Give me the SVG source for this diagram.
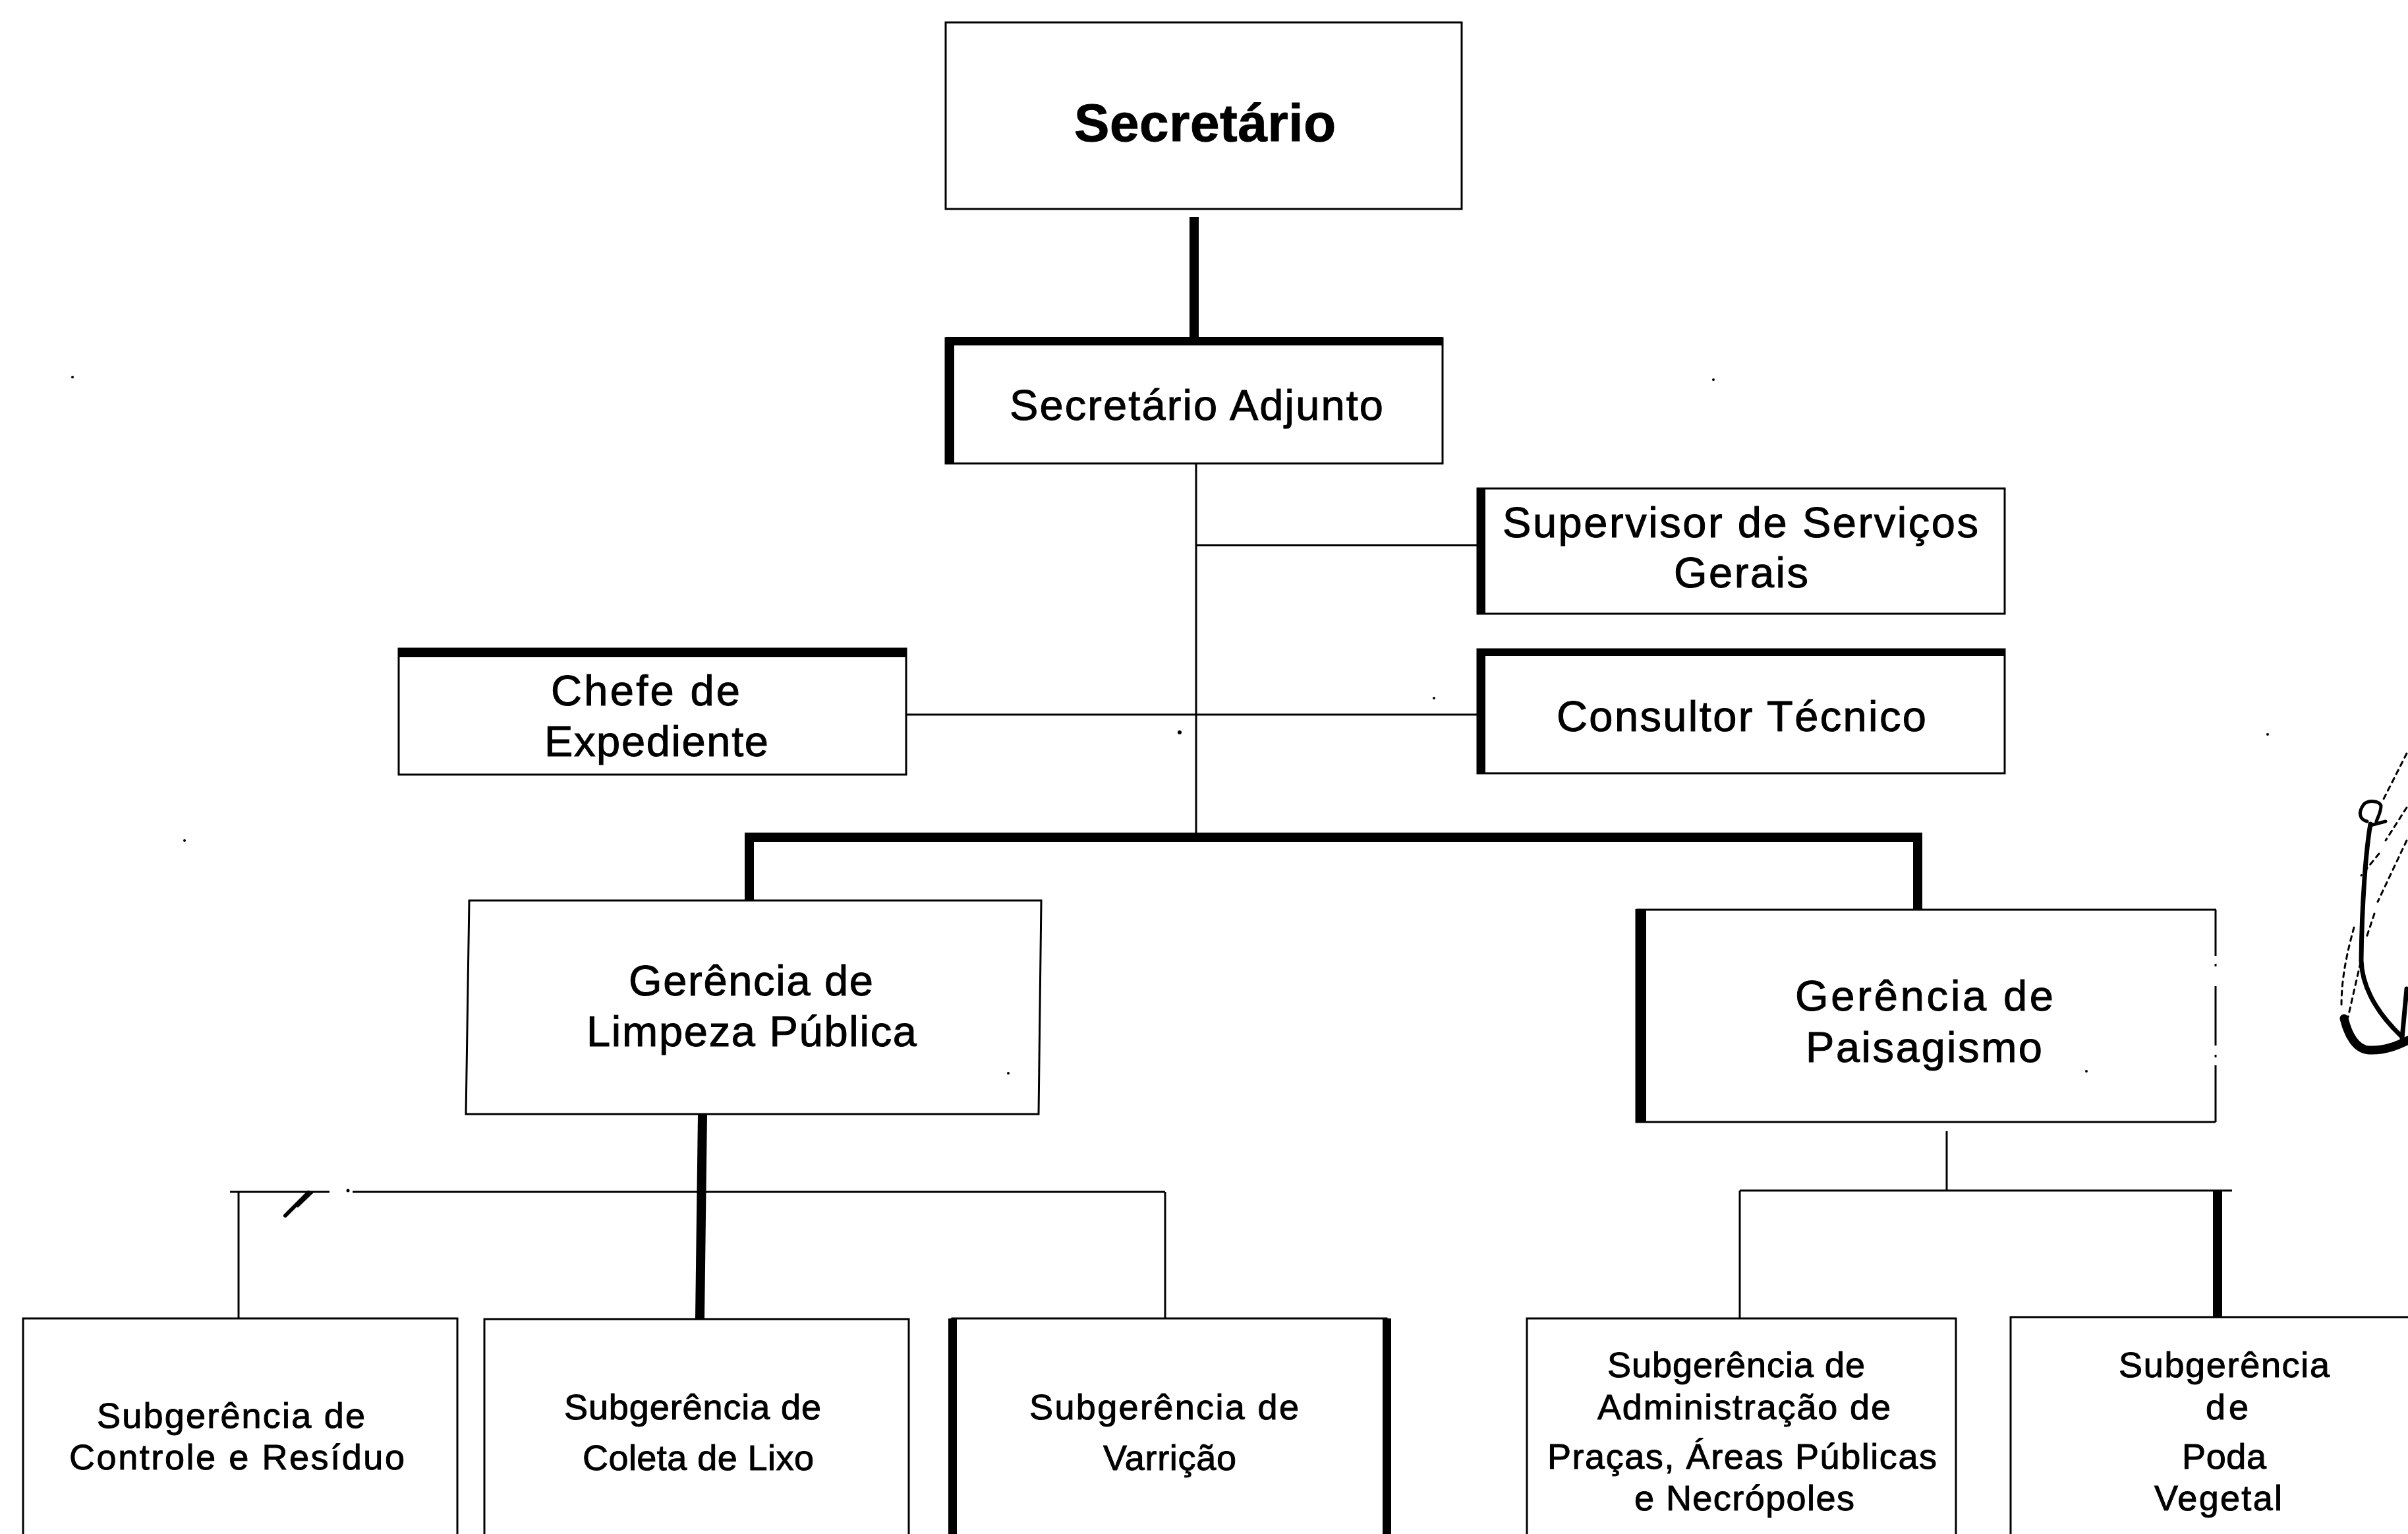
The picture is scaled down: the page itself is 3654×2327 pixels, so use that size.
<svg xmlns="http://www.w3.org/2000/svg" width="3654" height="2327" viewBox="0 0 3654 2327">
<style>
.box{fill:#fff;stroke:#000;stroke-width:3}
.edge{fill:#000}
.thin{stroke:#000;stroke-width:3;fill:none}
.thick{stroke:#000;stroke-width:14;fill:none}
text{font-family:"Liberation Sans",Arial,sans-serif;fill:#000;stroke:#000;stroke-width:1}
.n{font-size:65px}
.s{font-size:54px}
.b{font-size:80px;font-weight:bold}
.sig{stroke:#000;fill:none;stroke-linecap:round;stroke-linejoin:round}
.dot{stroke-width:3;stroke-dasharray:7 7}
</style>
<rect width="3654" height="2327" fill="#fff"/>
<g id="connectors">
<path class="thick" d="M1812 329V512"/>
<path class="thin" d="M1815 703V1266"/>
<path class="thin" d="M1815 827H2242"/>
<path class="thin" d="M1375 1084H2242"/>
<path class="thick" d="M1137 1368V1270H2910V1379"/>
<path class="thick" d="M1066 1691L1062 2000"/>
<path class="thin" d="M349 1808H500M535 1808H1768"/>
<path class="thin" d="M362 1808V2000"/>
<path class="thin" d="M1768 1808V2000"/>
<path class="thin" d="M2954 1716V1806"/>
<path class="thin" d="M2640 1806H3387"/>
<path class="thin" d="M2640 1806V2000"/>
<path class="thick" d="M3365 1806V1998"/>
</g>
<g id="secretario"><rect class="box" x="1435" y="34" width="783" height="283"/>
<text class="b" x="1630" y="214" textLength="397">Secretário</text></g>
<g id="secretario-adjunto"><rect class="box" x="1435" y="513" width="754" height="190"/>
<rect class="edge" x="1435" y="511" width="754" height="13"/><rect class="edge" x="1435" y="511" width="13" height="192"/>
<text class="n" x="1532" y="637" textLength="567">Secretário Adjunto</text></g>
<g id="supervisor"><rect class="box" x="2242" y="741" width="800" height="190"/>
<rect class="edge" x="2242" y="741" width="12" height="190"/>
<text class="n" x="2280" y="815" textLength="722">Supervisor de Serviços</text>
<text class="n" x="2540" y="891" textLength="204">Gerais</text></g>
<g id="consultor"><rect class="box" x="2242" y="985" width="800" height="188"/>
<rect class="edge" x="2242" y="984" width="800" height="11"/><rect class="edge" x="2242" y="984" width="12" height="189"/>
<text class="n" x="2362" y="1109" textLength="561">Consultor Técnico</text></g>
<g id="chefe"><rect class="box" x="605" y="984" width="770" height="191"/>
<rect class="edge" x="605" y="983" width="770" height="14"/>
<text class="n" x="836" y="1070" textLength="287">Chefe de</text>
<text class="n" x="826" y="1147" textLength="340">Expediente</text></g>
<g id="gerencia-limpeza"><path class="box" d="M712 1366H1580L1576 1690H707Z"/>
<text class="n" x="954" y="1510" textLength="371">Gerência de</text>
<text class="n" x="890" y="1587" textLength="501">Limpeza Pública</text></g>
<g id="gerencia-paisagismo"><path d="M2483 1379V1702H3362H2483" class="box"/>
<path class="thin" d="M2483 1380H3363"/>
<path class="thin" d="M3362 1380V1702" stroke-dasharray="70 12 4 30 90 14 4 12 100 60"/>
<rect class="edge" x="2483" y="1379" width="15" height="323"/>
<text class="n" x="2724" y="1533" textLength="392">Gerência de</text>
<text class="n" x="2740" y="1611" textLength="359">Paisagismo</text></g>
<g id="sub-controle"><rect class="box" x="35" y="2000" width="659" height="340"/>
<text class="s" x="147" y="2166" textLength="407">Subgerência de</text>
<text class="s" x="105" y="2229" textLength="509">Controle e Resíduo</text></g>
<g id="sub-coleta"><rect class="box" x="735" y="2001" width="644" height="340"/>
<text class="s" x="856" y="2153" textLength="390">Subgerência de</text>
<text class="s" x="884" y="2230" textLength="351">Coleta de Lixo</text></g>
<g id="sub-varricao"><rect class="box" x="1445" y="2000" width="659" height="340"/>
<rect class="edge" x="1439" y="2000" width="13" height="327"/><rect class="edge" x="2098" y="2000" width="13" height="327"/>
<text class="s" x="1562" y="2153" textLength="409">Subgerência de</text>
<text class="s" x="1674" y="2230" textLength="202">Varrição</text></g>
<g id="sub-pracas"><rect class="box" x="2317" y="2000" width="651" height="340"/>
<text class="s" x="2439" y="2089" textLength="391">Subgerência de</text>
<text class="s" x="2424" y="2153" textLength="445">Administração de</text>
<text class="s" x="2348" y="2228" textLength="591">Praças, Áreas Públicas</text>
<text class="s" x="2480" y="2291" textLength="334">e Necrópoles</text></g>
<g id="sub-poda"><rect class="box" x="3051" y="1998" width="620" height="345"/>
<text class="s" x="3215" y="2089" textLength="320">Subgerência</text>
<text class="s" x="3347" y="2153" textLength="65">de</text>
<text class="s" x="3311" y="2228" textLength="128">Poda</text>
<text class="s" x="3269" y="2291" textLength="194">Vegetal</text></g>
<path class="sig" stroke-width="6" d="M468 1809L433 1844"/>
<path class="sig" stroke-width="3" d="M474 1809L452 1830"/>
<g id="rubrica">
<path class="sig" stroke-width="7" d="M3597 1250C3590 1290 3584 1370 3583 1457C3584 1490 3600 1530 3643 1571"/>
<path class="sig" stroke-width="13" d="M3557 1545C3563 1570 3575 1592 3595 1593C3620 1594 3640 1585 3654 1578"/>
<path class="sig" stroke-width="5" d="M3592 1246C3580 1243 3578 1232 3587 1220C3595 1213 3610 1215 3613 1222C3613 1232 3608 1240 3606 1246"/>
<path class="sig" stroke-width="5" d="M3597 1252L3620 1246"/>
<path class="sig" stroke-width="7" d="M3652 1500L3645 1575"/>
<path class="sig dot" d="M3652 1143L3617 1212"/>
<path class="sig dot" d="M3652 1225L3620 1275"/>
<path class="sig dot" d="M3652 1275L3608 1368"/>
<path class="sig dot" d="M3603 1386L3590 1425"/>
<path class="sig dot" d="M3572 1407C3563 1440 3553 1480 3553 1525"/>
<path class="sig dot" d="M3582 1460L3563 1543"/>
<path class="sig dot" d="M3610 1295L3583 1328"/>
</g>
<g id="specks" fill="#000">
<circle cx="1790" cy="1111" r="3"/><circle cx="2600" cy="576" r="2"/><circle cx="2176" cy="1059" r="2"/><circle cx="1530" cy="1628" r="2"/><circle cx="3166" cy="1625" r="2"/><circle cx="110" cy="572" r="2"/><circle cx="280" cy="1275" r="2"/><circle cx="3441" cy="1114" r="2"/><circle cx="528" cy="1806" r="2.5"/>
</g>
</svg>
